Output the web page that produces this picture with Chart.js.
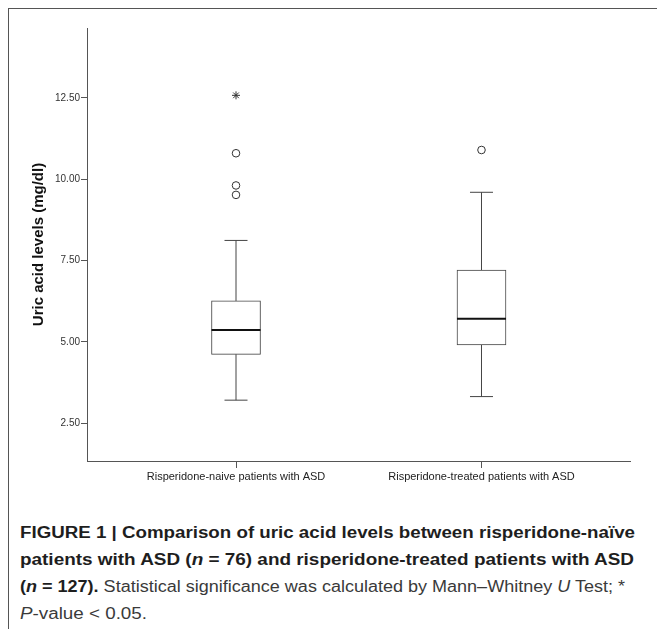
<!DOCTYPE html>
<html>
<head>
<meta charset="utf-8">
<script src="https://cdn.jsdelivr.net/npm/chart.js@4.4.0/dist/chart.umd.min.js"></script>
<style>
  body { margin: 0; background: #fff; width: 657px; height: 629px; overflow: hidden; position: relative; font-family: "Liberation Sans", Arial, sans-serif; }
  #frame { position: absolute; left: 8px; top: 8px; width: 700px; height: 700px; border-top: 1.5px solid #555; border-left: 1.5px solid #555; }
  #chart { position: absolute; left: 0; top: 0; }
  #caption { position: absolute; left: 20px; top: 519px; font-size: 16px; line-height: 27px; color: #3a3a3a; }
  .ln { display: inline-block; white-space: nowrap; transform-origin: 0 0; }
  #caption b { color: #1e1e1e; }
</style>
</head>
<body>
<div id="frame"></div>
<canvas id="chart" width="657" height="500"></canvas>
<div id="caption">
  <span class="ln" data-w="615"><b>FIGURE 1 | Comparison of uric acid levels between risperidone-naïve</b></span><br>
  <span class="ln" data-w="614"><b>patients with ASD (<i>n</i> = 76) and risperidone-treated patients with ASD</b></span><br>
  <span class="ln" data-w="605"><b>(<i>n</i> = 127).</b> Statistical significance was calculated by Mann–Whitney <i>U</i> Test; *</span><br>
  <span class="ln" data-w="127"><i>P</i>-value &lt; 0.05.</span>
</div>
<script>
// box plot summary (mg/dl)
const groups = ['Risperidone-naive patients with ASD', 'Risperidone-treated patients with ASD'];
const groupPos = [1, 2];
const q1 = [4.62, 4.91];
const median = [5.37, 5.71];
const q3 = [6.26, 7.21];
const whiskerLow = [3.21, 3.32];
const whiskerHigh = [8.12, 9.60];
const outliers = [[10.80, 9.81, 9.52], [10.90]];
const extremes = [[12.58], []];
const yTicks = [2.5, 5, 7.5, 10, 12.5];

const lineColor = '#444';

const whiskerSets = [];
groupPos.forEach((x, i) => {
    whiskerSets.push({
        type: 'scatter', showLine: true, pointRadius: 0, borderColor: lineColor, borderWidth: 1, order: 3,
        data: [{x: x, y: q3[i]}, {x: x, y: whiskerHigh[i]}]
    });
    whiskerSets.push({
        type: 'scatter', showLine: true, pointRadius: 0, borderColor: lineColor, borderWidth: 1, order: 3,
        data: [{x: x, y: whiskerLow[i]}, {x: x, y: q1[i]}]
    });
});

const capPoints = [];
groupPos.forEach((x, i) => {
    capPoints.push({x: x, y: whiskerLow[i]});
    capPoints.push({x: x, y: whiskerHigh[i]});
});

const outlierPoints = [];
outliers.forEach((vals, i) => vals.forEach(v => outlierPoints.push({x: groupPos[i], y: v})));
const extremePoints = [];
extremes.forEach((vals, i) => vals.forEach(v => extremePoints.push({x: groupPos[i], y: v})));

new Chart(document.getElementById('chart').getContext('2d'), {
    type: 'scatter',
    data: {
        datasets: [
            ...whiskerSets,
            {
                type: 'bar',
                order: 2,
                data: groupPos.map((x, i) => ({x: x, y: [q1[i], q3[i]]})),
                backgroundColor: '#fff',
                borderColor: lineColor,
                borderWidth: 1,
                borderSkipped: false,
                barThickness: 49,
                grouped: false
            },
            {
                type: 'scatter',
                order: 1,
                data: groupPos.map((x, i) => ({x: x, y: median[i]})),
                pointStyle: 'line', pointRadius: 24.5, borderColor: '#111', borderWidth: 2
            },
            {
                type: 'scatter',
                order: 1,
                data: capPoints,
                pointStyle: 'line', pointRadius: 11.5, borderColor: lineColor, borderWidth: 1
            },
            {
                type: 'scatter',
                order: 1,
                data: outlierPoints,
                pointStyle: 'circle', pointRadius: 3.8, backgroundColor: '#fff', borderColor: '#333', borderWidth: 1
            },
            {
                type: 'scatter',
                order: 1,
                data: extremePoints,
                pointStyle: 'star', pointRadius: 4, borderColor: '#333', borderWidth: 1
            }
        ]
    },
    options: {
        responsive: false,
        animation: false,
        events: [],
        layout: { padding: { top: 28, right: 24, left: 0, bottom: 0 } },
        plugins: { legend: { display: false }, tooltip: { enabled: false } },
        scales: {
            x: {
                type: 'linear',
                offset: false,
                min: 0.393,
                max: 2.607,
                afterBuildTicks: axis => { axis.ticks = groupPos.map(v => ({value: v})); },
                afterFit: axis => { axis.height = 39; },
                grid: { drawOnChartArea: false, offset: false, tickLength: 7, color: '#555' },
                border: { color: '#555', width: 1 },
                ticks: {
                    autoSkip: false, maxRotation: 0, padding: 2,
                    color: '#222', font: { family: 'Liberation Sans', size: 11 },
                    callback: v => groups[groupPos.indexOf(v)] || ''
                }
            },
            y: {
                type: 'linear',
                min: 1.34,
                max: 14.65,
                afterBuildTicks: axis => { axis.ticks = yTicks.map(v => ({value: v})); },
                afterFit: axis => { axis.width = 87; },
                grid: { drawOnChartArea: false, tickLength: 6, color: '#555' },
                border: { color: '#555', width: 1 },
                ticks: {
                    padding: 1,
                    color: '#333', font: { family: 'Liberation Sans', size: 10 },
                    callback: v => Number(v).toFixed(2)
                },
                title: {
                    display: true,
                    text: 'Uric acid levels (mg/dl)',
                    color: '#111',
                    font: { family: 'Liberation Sans', size: 15, weight: 'bold' },
                    padding: { top: 30, bottom: 0 }
                }
            }
        }
    }
});

// fit caption lines to the widths of the printed caption
document.querySelectorAll('.ln').forEach(el => {
    const w = el.getBoundingClientRect().width;
    el.style.transform = 'scaleX(' + (Number(el.dataset.w) / w) + ')';
});
</script>
</body>
</html>
